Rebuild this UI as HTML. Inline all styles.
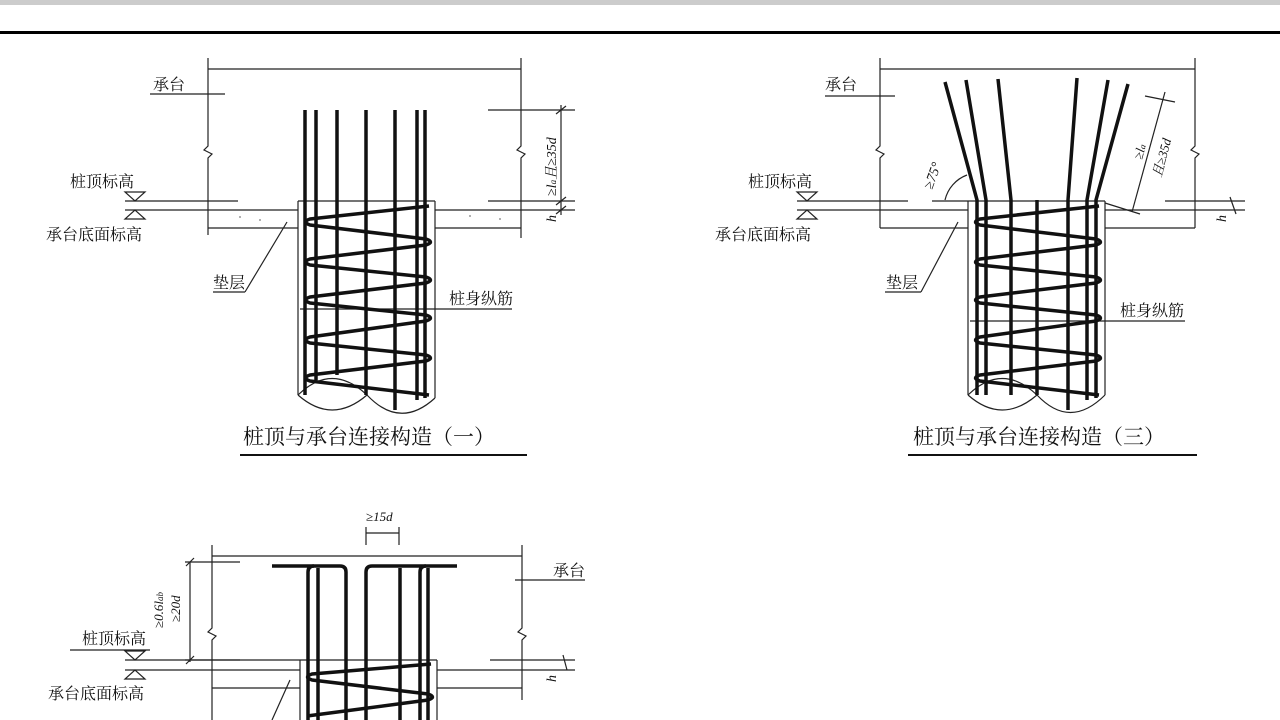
<!DOCTYPE html>
<html><head><meta charset="utf-8"><style>
html,body{margin:0;padding:0;background:#fff}
svg{display:block}
text{font-family:"Liberation Serif","Noto Serif CJK SC","Noto Sans CJK SC",serif;fill:#111}
</style></head><body>
<svg width="1280" height="720" viewBox="0 0 1280 720" xmlns="http://www.w3.org/2000/svg">
<rect x="0" y="0" width="1280" height="5" fill="#ccc"/>
<rect x="0" y="31" width="1280" height="3" fill="#000"/>

<!-- ========== FIGURE 1 ========== -->
<g stroke="#222" fill="none" stroke-width="1.2">
 <line x1="208" y1="69" x2="521" y2="69"/>
 <polyline points="208,58 208,146 204,150 212,154 208,158 208,235"/>
 <polyline points="521,58 521,146 517,150 525,154 521,158 521,238"/>
 <line x1="150" y1="94" x2="225" y2="94"/>
 <line x1="125" y1="201" x2="238" y2="201"/>
 <line x1="125" y1="210" x2="298" y2="210"/>
 <line x1="208" y1="228" x2="298" y2="228"/>
 <line x1="435" y1="210" x2="575" y2="210"/>
 <line x1="435" y1="228" x2="521" y2="228"/>
 <line x1="488" y1="201" x2="575" y2="201"/>
 <line x1="488" y1="110" x2="575" y2="110"/>
 <polygon points="125,192 145,192 135,201"/>
 <polygon points="125,219 145,219 135,210"/>
 <line x1="298" y1="201" x2="435" y2="201"/>
 <line x1="298" y1="201" x2="298" y2="395"/>
 <line x1="435" y1="201" x2="435" y2="398"/>
 <path d="M298,395 Q332,362 367,395 Q332,425 298,395"/>
 <path d="M367,395 Q400,430 435,398"/>
 <line x1="245" y1="292" x2="287" y2="222"/>
 <line x1="213" y1="292" x2="245" y2="292"/>
 <line x1="300" y1="309" x2="512" y2="309"/>
 <line x1="561" y1="105" x2="561" y2="215"/>
 <line x1="556" y1="114" x2="566" y2="106"/>
 <line x1="556" y1="205" x2="566" y2="197"/>
 <line x1="556" y1="214" x2="566" y2="206"/>
</g>
<g stroke="#111" stroke-width="3.5" fill="none" stroke-linejoin="round">
 <line x1="305" y1="110" x2="305" y2="395"/>
 <line x1="316" y1="110" x2="316" y2="380"/>
 <line x1="337" y1="110" x2="337" y2="375"/>
 <line x1="366" y1="110" x2="366" y2="395"/>
 <line x1="395" y1="110" x2="395" y2="410"/>
 <line x1="417" y1="110" x2="417" y2="400"/>
 <line x1="425" y1="110" x2="425" y2="398"/>
 <path d="M429,206 L310,219 Q301,222 310,225 L426,239 Q435,242 426,245 L310,259 Q301,262 310,265 L426,277 Q435,280 426,283 L310,297 Q301,300 310,303 L426,315 Q435,318 426,321 L310,337 Q301,340 310,343 L426,355 Q435,358 426,361 L310,375 Q301,378 310,381 L429,395"/>
</g>
<g fill="#999"><circle cx="240" cy="217" r="1"/><circle cx="260" cy="220" r="1"/><circle cx="470" cy="216" r="1"/><circle cx="500" cy="219" r="1"/></g>
<g font-size="16">
<text x="153" y="90">承台</text>
<text x="70" y="187">桩顶标高</text>
<text x="46" y="240">承台底面标高</text>
<text x="213" y="288">垫层</text>
<text x="449" y="304">桩身纵筋</text>
</g>
<text transform="translate(556,196) rotate(-90)" font-size="14" font-style="italic">≥<tspan>l</tspan><tspan font-size="9">a</tspan>且≥35d</text>
<text transform="translate(556,222) rotate(-90)" font-size="14" font-style="italic">h</text>
<text x="243" y="444" font-size="21" font-family="Liberation Sans,'Noto Sans CJK SC',sans-serif">桩顶与承台连接构造（一）</text>
<line x1="240" y1="455" x2="527" y2="455" stroke="#111" stroke-width="2"/>

<!-- ========== FIGURE 3 ========== -->
<g stroke="#222" fill="none" stroke-width="1.2">
 <line x1="880" y1="69" x2="1195" y2="69"/>
 <polyline points="880,58 880,146 876,150 884,154 880,158 880,228"/>
 <polyline points="1195,58 1195,146 1191,150 1199,154 1195,158 1195,228"/>
 <line x1="825" y1="96" x2="895" y2="96"/>
 <line x1="797" y1="201" x2="908" y2="201"/>
 <line x1="932" y1="201" x2="968" y2="201"/>
 <line x1="797" y1="210" x2="968" y2="210"/>
 <line x1="880" y1="228" x2="968" y2="228"/>
 <line x1="1105" y1="210" x2="1245" y2="210"/>
 <line x1="1105" y1="228" x2="1195" y2="228"/>
 <line x1="1165" y1="201" x2="1245" y2="201"/>
 <polygon points="797,192 817,192 807,201"/>
 <polygon points="797,219 817,219 807,210"/>
 <line x1="968" y1="201" x2="1105" y2="201"/>
 <line x1="968" y1="201" x2="968" y2="395"/>
 <line x1="1105" y1="201" x2="1105" y2="395"/>
 <path d="M968,395 Q1002,362 1037,395 Q1002,425 968,395"/>
 <path d="M1037,395 Q1070,430 1105,395"/>
 <line x1="921" y1="292" x2="958" y2="222"/>
 <line x1="885" y1="292" x2="921" y2="292"/>
 <line x1="970" y1="321" x2="1185" y2="321"/>
 <path d="M945,200 A35,35 0 0 1 967,175"/>
 <line x1="1132" y1="212" x2="1165" y2="92"/>
 <line x1="1145" y1="96" x2="1175" y2="102"/>
 <line x1="1105" y1="203" x2="1140" y2="214"/>
 <line x1="1230" y1="197" x2="1236" y2="214"/>
</g>
<g stroke="#111" stroke-width="3.5" fill="none" stroke-linejoin="round">
 <polyline points="977,395 977,200 945,82"/>
 <polyline points="986,395 986,200 966,80"/>
 <polyline points="1011,395 1011,200 998,79"/>
 <line x1="1037" y1="200" x2="1037" y2="395"/>
 <polyline points="1068,410 1068,200 1077,78"/>
 <polyline points="1087,400 1087,200 1108,80"/>
 <polyline points="1096,398 1096,200 1128,84"/>
 <path d="M1099,206 L980,219 Q971,222 980,225 L1096,239 Q1105,242 1096,245 L980,259 Q971,262 980,265 L1096,277 Q1105,280 1096,283 L980,297 Q971,300 980,303 L1096,315 Q1105,318 1096,321 L980,337 Q971,340 980,343 L1096,355 Q1105,358 1096,361 L980,375 Q971,378 980,381 L1099,395"/>
</g>
<g font-size="16">
<text x="825" y="90">承台</text>
<text x="748" y="187">桩顶标高</text>
<text x="715" y="240">承台底面标高</text>
<text x="886" y="288">垫层</text>
<text x="1120" y="316">桩身纵筋</text>
</g>
<text transform="translate(932,190) rotate(-70)" font-size="14" font-style="italic">≥75°</text>
<text transform="translate(1142,160) rotate(-75)" font-size="13" font-style="italic">≥l<tspan font-size="9">a</tspan></text>
<text transform="translate(1161,178) rotate(-75)" font-size="13" font-style="italic">且≥35d</text>
<text transform="translate(1226,222) rotate(-90)" font-size="14" font-style="italic">h</text>
<text x="913" y="444" font-size="21" font-family="Liberation Sans,'Noto Sans CJK SC',sans-serif">桩顶与承台连接构造（三）</text>
<line x1="908" y1="455" x2="1197" y2="455" stroke="#111" stroke-width="2"/>

<!-- ========== FIGURE 2 (bottom) ========== -->
<g stroke="#222" fill="none" stroke-width="1.2">
 <line x1="212" y1="556" x2="522" y2="556"/>
 <polyline points="212,545 212,628 208,632 216,636 212,640 212,720"/>
 <polyline points="522,545 522,628 518,632 526,636 522,640 522,700"/>
 <line x1="515" y1="580" x2="585" y2="580"/>
 <line x1="185" y1="562" x2="240" y2="562"/>
 <line x1="185" y1="660" x2="240" y2="660"/>
 <line x1="190" y1="562" x2="190" y2="662"/>
 <line x1="186" y1="566" x2="194" y2="558"/>
 <line x1="186" y1="664" x2="194" y2="656"/>
 <line x1="70" y1="650" x2="150" y2="650"/>
 <line x1="125" y1="660" x2="300" y2="660"/>
 <line x1="125" y1="670" x2="300" y2="670"/>
 <line x1="212" y1="688" x2="300" y2="688"/>
 <polygon points="125,651 145,651 135,660"/>
 <polygon points="125,679 145,679 135,670"/>
 <line x1="300" y1="660" x2="437" y2="660"/>
 <line x1="300" y1="660" x2="300" y2="720"/>
 <line x1="437" y1="660" x2="437" y2="720"/>
 <line x1="437" y1="670" x2="575" y2="670"/>
 <line x1="437" y1="688" x2="522" y2="688"/>
 <line x1="490" y1="660" x2="575" y2="660"/>
 <line x1="290" y1="680" x2="272" y2="720"/>
 <line x1="366" y1="527" x2="366" y2="545"/>
 <line x1="399" y1="527" x2="399" y2="545"/>
 <line x1="366" y1="533" x2="399" y2="533"/>
 <line x1="563" y1="655" x2="567" y2="670"/>
</g>
<g stroke="#111" stroke-width="3.5" fill="none" stroke-linejoin="round">
 <path d="M272,566 L340,566 Q346,566 346,572 L346,720"/>
 <path d="M308,720 L308,572 Q308,566 314,566"/>
 <line x1="318" y1="568" x2="318" y2="720"/>
 <path d="M457,566 L372,566 Q366,566 366,572 L366,720"/>
 <line x1="400" y1="568" x2="400" y2="720"/>
 <path d="M420,720 L420,572 Q420,566 426,566"/>
 <line x1="428" y1="568" x2="428" y2="720"/>
 <path d="M431,664 L312,674 Q303,677 312,680 L428,694 Q437,697 428,700 L307,716"/>
</g>
<g font-size="16">
<text x="553" y="576">承台</text>
<text x="82" y="644">桩顶标高</text>
<text x="48" y="699">承台底面标高</text>
</g>
<text transform="translate(163,628) rotate(-90)" font-size="13" font-style="italic">≥0.6l<tspan font-size="9">ab</tspan></text>
<text transform="translate(180,622) rotate(-90)" font-size="13" font-style="italic">≥20d</text>
<text x="366" y="521" font-size="13" font-style="italic">≥15d</text>
<text transform="translate(556,682) rotate(-90)" font-size="14" font-style="italic">h</text>
</svg>
</body></html>
